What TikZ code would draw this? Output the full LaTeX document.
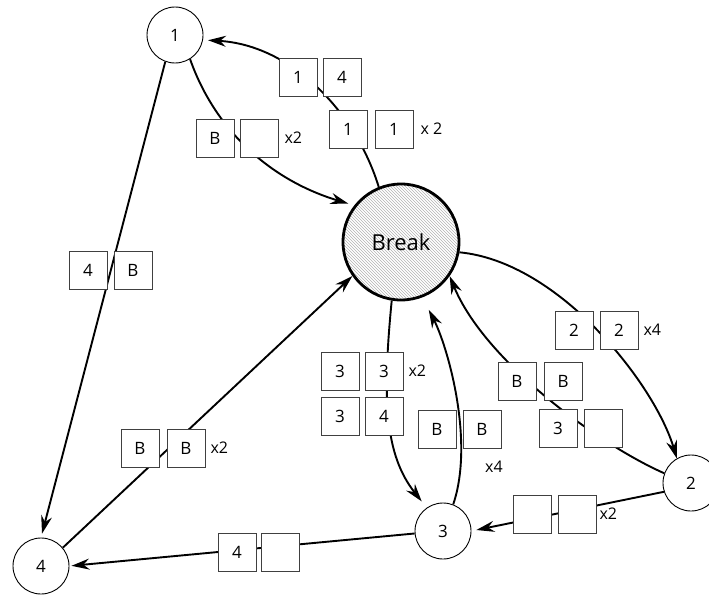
\documentclass[tikz,border=0pt]{standalone}
\usepackage{fontspec}
\setmainfont{Open Sans}
\usetikzlibrary{arrows.meta,patterns}
\pgfdeclarelayer{bg}
\pgfsetlayers{bg,main}
\begin{document}
\begin{tikzpicture}[x=1pt,y=-1pt,
  state/.style={circle,draw,line width=0.9pt,minimum size=56pt,inner sep=0pt,font=\fontsize{17}{20}\selectfont},
  brkstyle/.style={circle,draw,line width=2.8pt,minimum size=116pt,inner sep=0pt,pattern=north west lines,pattern color=gray!60,font=\fontsize{22}{26}\selectfont},
  tok/.style={draw=black!75,line width=0.8pt,fill=white,minimum size=38pt,inner sep=0pt,font=\fontsize{17}{20}\selectfont},
  mult/.style={font=\fontsize{16}{19}\selectfont,inner sep=0pt},
  conn/.style={line width=1.9pt,-{Stealth[length=18pt,width=11pt,inset=6pt]}}]
\useasboundingbox (0,0) rectangle (709,594);

% places
\node[state] (n1) at (175,35) {1};
\node[state] (n2) at (691,483) {2};
\node[state] (n3) at (443,531) {3};
\node[state] (n4) at (41,566) {4};
\node[brkstyle] (brk) at (401,242) {Break};

% token boxes
\node[tok] (p1a) at (298,77) {1};
\node[tok] (p1b) at (342,77) {4};

\node[tok] (p2a) at (348,129) {1};
\node[tok] (p2b) at (394,129) {1};
\node[mult,anchor=west,xshift=7pt] (m2) at (p2b.east) {x 2};

\node[tok] (p3a) at (215,138) {B};
\node[tok] (p3b) at (259,138) {};
\node[mult,anchor=west,xshift=6pt] (m3) at (p3b.east) {x2};

\node[tok] (p4a) at (88,270) {4};
\node[tok] (p4b) at (133,270) {B};

\node[tok] (p5a) at (574,330) {2};
\node[tok] (p5b) at (619,330) {2};
\node[mult,anchor=west,xshift=5pt] (m5) at (p5b.east) {x4};

\node[tok] (p6a) at (517,381) {B};
\node[tok] (p6b) at (563,381) {B};

\node[tok] (p7a) at (558,428) {3};
\node[tok] (p7b) at (603,428) {};

\node[tok] (p8a) at (340,371) {3};
\node[tok] (p8b) at (384,371) {3};
\node[mult,anchor=west,xshift=5pt] (m8) at (p8b.east) {x2};

\node[tok] (p9a) at (340,416) {3};
\node[tok] (p9b) at (384,416) {4};

\node[tok] (p10a) at (437,429) {B};
\node[tok] (p10b) at (482,429) {B};
\node[mult] (m10) at (494,467) {x4};

\node[tok] (p11a) at (140,448) {B};
\node[tok] (p11b) at (186,448) {B};
\node[mult,anchor=west,xshift=5pt] (m11) at (p11b.east) {x2};

\node[tok] (p12a) at (237,552) {4};
\node[tok] (p12b) at (280,552) {};

\node[tok] (p13a) at (532,514) {};
\node[tok] (p13b) at (577,514) {};
\node[mult,anchor=west,xshift=3pt] (m13) at (p13b.east) {x2};

% connectors (behind the boxes)
\begin{pgfonlayer}{bg}
\draw[conn,shorten >=5pt] (brk.112) .. controls (355,110) and (290,45) .. (n1.-10);
\draw[conn,shorten >=6pt] (n1.-58) .. controls (215,130) and (270,180) .. (brk.142);
\draw[conn,shorten >=4pt] (n1.250) -- (n4.north);
\draw[conn] (n4.40) -- (brk.215);
\draw[conn,shorten >=2pt] (n3.185) -- (n4.0);
\draw[conn,shorten >=5pt] (n2.198) -- (n3.east);
\draw[conn] (brk.-10) .. controls (560,262) and (655,385) .. (n2.120);
\draw[conn] (n2.160) .. controls (600,445) and (485,362) .. (brk.-35);
\draw[conn,shorten >=8pt] (brk.261) .. controls (382,400) and (385,455) .. (n3.125);
\draw[conn,shorten >=14pt] (n3.69) .. controls (475,440) and (447,345) .. (brk.-69);
\end{pgfonlayer}
\end{tikzpicture}
\end{document}
